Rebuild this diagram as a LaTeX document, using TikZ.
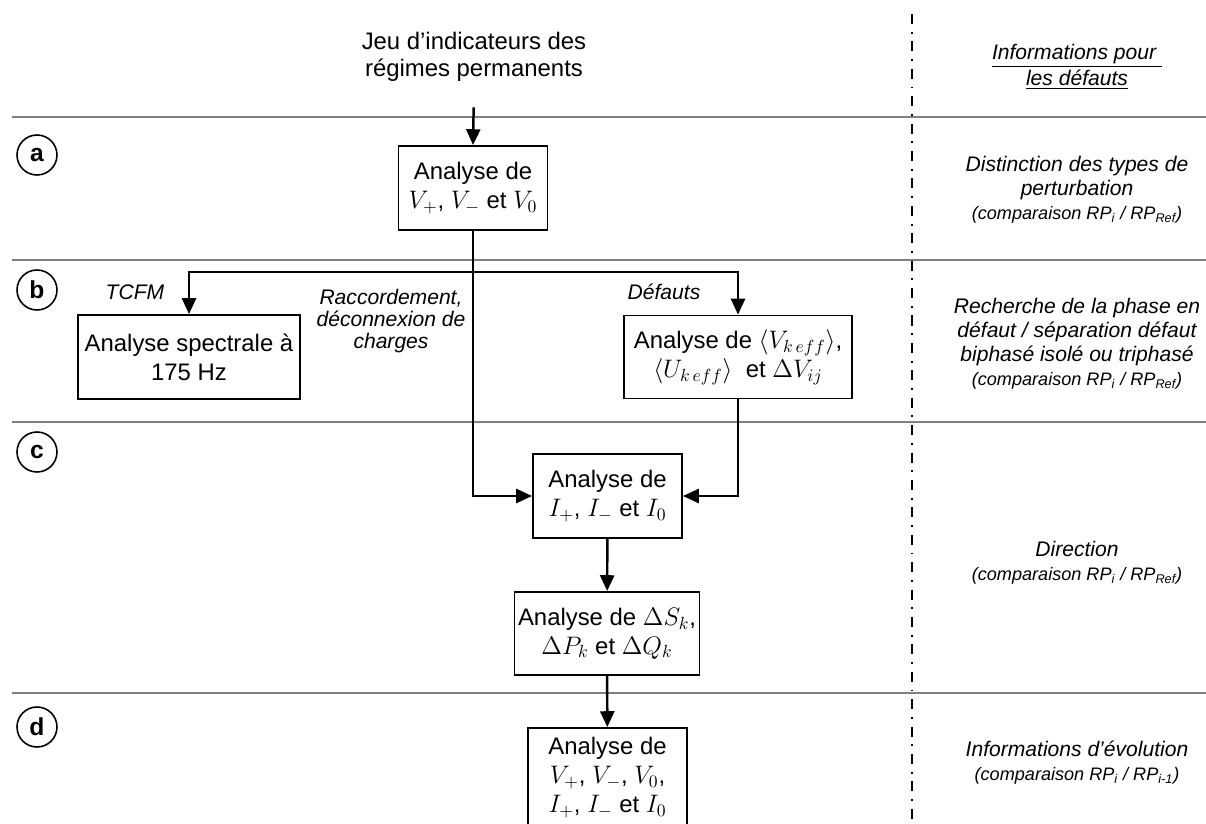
\documentclass[tikz,border=0pt]{standalone}
\usepackage{fontspec}
\setmainfont{Liberation Sans}
\usepackage{amsmath}
\usepackage{tikz}
\usetikzlibrary{arrows.meta,positioning}
\definecolor{lignegrise}{RGB}{128,128,128}
\newcommand{\comptexte}{\fontsize{10.3}{12}\selectfont\itshape}

\begin{document}
\begin{tikzpicture}[x=0.02cm,y=-0.02cm,
    etape/.style={draw,line width=1.1pt,align=center,inner sep=2pt,
      font=\fontsize{13.6}{16.5}\selectfont},
    fleche/.style={line width=1.4pt,-{Triangle[length=9pt,width=8pt]}},
    lettre/.style={draw,circle,line width=0.9pt,minimum size=0.8cm,inner sep=0pt,
      font=\fontsize{14}{16}\selectfont\bfseries},
    etiq/.style={align=center,font=\fontsize{12}{13.8}\selectfont\itshape},
    info/.style={align=center,font=\fontsize{12}{13.6}\selectfont\itshape}]
    \useasboundingbox (0,0) rectangle (1206,824);

    % bandes a, b, c, d
    \foreach \y in {117,260,422,693}
      \draw[lignegrise,line width=1.5pt] (12,\y) -- (1206,\y);
    \draw[line width=1.3pt,dash pattern=on 5.7pt off 4.4pt on 1.1pt off 4.4pt]
      (912,14) -- (912,830);

    \node[lettre] (la) at (37,155) {a};
    \node[lettre] (lb) at (37,290) {b};
    \node[lettre] (lc) at (37,452) {c};
    \node[lettre] (ld) at (37,727) {d};

    % etapes
    \node[align=center,font=\fontsize{13.6}{15.5}\selectfont] (titre) at (474,57)
      {Jeu d’indicateurs des\\régimes permanents};
    \node[etape,minimum width=2.98cm,minimum height=1.68cm] (boxa) at (473,188)
      {Analyse de\\$V_+$, $V_-$ et $V_0$};
    \node[etape,minimum width=4.44cm,minimum height=1.68cm] (spectral) at (189,357)
      {Analyse spectrale à\\175 Hz};
    \node[etape,minimum width=4.56cm,minimum height=1.66cm] (defauts) at (738,357)
      {Analyse de $\langle V_{k\,eff}\rangle$,\\$\langle U_{k\,eff}\rangle$\ \ et $\Delta V_{ij}$};
    \node[etape,minimum width=2.98cm,minimum height=1.68cm] (boxI) at (607.5,496)
      {Analyse de\\$I_+$, $I_-$ et $I_0$};
    \node[etape,minimum width=3.6cm,minimum height=1.66cm] (boxS) at (607,633.5)
      {Analyse de $\Delta S_k$,\\$\Delta P_k$ et $\Delta Q_k$};
    \node[etape,minimum width=3.18cm,minimum height=1.98cm] (boxfin) at (607.5,777.5)
      {Analyse de\\$V_+$, $V_-$, $V_0$,\\$I_+$, $I_-$ et $I_0$};

    \node[etiq] (tcfm) at (135,292) {TCFM};
    \node[etiq,font=\fontsize{12}{12.3}\selectfont\itshape] (raccord) at (391,321)
      {Raccordement,\\déconnexion de\\charges};
    \node[etiq] (defl) at (664,292) {Défauts};

    % colonne de droite
    \node[info] (titreinfo) at (1077,67) {\underline{Informations pour\ }\\\underline{les défauts}};
    \node[info] (infoa) at (1077,190)
      {Distinction des types de\\perturbation\\{\comptexte(comparaison RP\textsubscript{i} / RP\textsubscript{Ref})}};
    \node[info] (infob) at (1077,344)
      {Recherche de la phase en\\défaut / séparation défaut\\biphasé isolé ou triphasé\\{\comptexte(comparaison RP\textsubscript{i} / RP\textsubscript{Ref})}};
    \node[info] (infoc) at (1077,563)
      {Direction\\{\comptexte(comparaison RP\textsubscript{i} / RP\textsubscript{Ref})}};
    \node[info] (infod) at (1077,763)
      {Informations d’évolution\\{\comptexte(comparaison RP\textsubscript{i} / RP\textsubscript{i-1})}};

    % liaisons
    \coordinate (branche) at (473,272);
    \draw[fleche,shorten <=11pt] (titre.south) -- (boxa.north);
    \draw[fleche] (boxa.south) |- (boxI.west);
    \draw[fleche] (branche) -| (spectral.north);
    \draw[fleche] (branche) -| (defauts.north);
    \draw[fleche] (defauts.south) |- (boxI.east);
    \draw[fleche] (boxI) -- (boxS);
    \draw[fleche] (boxS) -- (boxfin);
  \end{tikzpicture}
\end{document}
